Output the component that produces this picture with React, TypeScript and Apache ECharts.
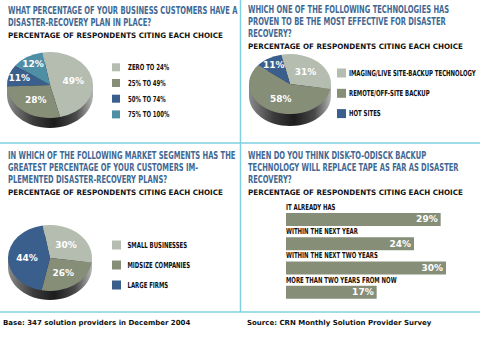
import React, { useEffect, useRef } from "react";
import * as echarts from "echarts";

// ---------- data ----------
const q1Title = ["WHAT PERCENTAGE OF YOUR BUSINESS CUSTOMERS HAVE A", "DISASTER-RECOVERY PLAN IN PLACE?"];
const q1Names = ["ZERO TO 24%", "25% TO 49%", "50% TO 74%", "75% TO 100%"];
const q1Values = [49, 28, 11, 12];

const q2Title = ["WHICH ONE OF THE FOLLOWING TECHNOLOGIES HAS", "PROVEN TO BE THE MOST EFFECTIVE FOR DISASTER", "RECOVERY?"];
const q2Names = ["IMAGING/LIVE SITE-BACKUP TECHNOLOGY", "REMOTE/OFF-SITE BACKUP", "HOT SITES"];
const q2Values = [31, 58, 11];

const q3Title = ["IN WHICH OF THE FOLLOWING MARKET SEGMENTS HAS THE", "GREATEST PERCENTAGE OF YOUR CUSTOMERS IM-", "PLEMENTED DISASTER-RECOVERY PLANS?"];
const q3Names = ["SMALL BUSINESSES", "MIDSIZE COMPANIES", "LARGE FIRMS"];
const q3Values = [30, 26, 44];

const q4Title = ["WHEN DO YOU THINK DISK-TO-ODISCK BACKUP", "TECHNOLOGY WILL REPLACE TAPE AS FAR AS DISASTER", "RECOVERY?"];
const q4Categories = ["IT ALREADY HAS", "WITHIN THE NEXT YEAR", "WITHIN THE NEXT TWO YEARS", "MORE THAN TWO YEARS FROM NOW"];
const q4Values = [29, 24, 30, 17];

const subtitle = "PERCENTAGE OF RESPONDENTS CITING EACH CHOICE";
const footLeft = "Base: 347 solution providers in December 2004";
const footRight = "Source: CRN Monthly Solution Provider Survey";

// ---------- styles ----------
const LIGHT = "#b5bdb1";
const GREEN = "#868e78";
const BLUE = "#3b5f8d";
const TEAL = "#4f8fa5";
const q1Colors = [LIGHT, GREEN, BLUE, TEAL];
const q23Colors = [LIGHT, GREEN, BLUE];
const TITLE_COLOR = "#3f6893";
const RULE = "#7fd0e3";
const NARROW = "'DejaVu Sans Condensed', 'DejaVu Sans', sans-serif";
const WIDE = "'DejaVu Sans', sans-serif";
const TITLE_SIZE = 10;
const SUB_SIZE = 7.5;
const LEG_SIZE = 8.3;

let measureCtx: CanvasRenderingContext2D | null = null;
function measure(text: string, size: number, family: string) {
  if (!measureCtx) measureCtx = document.createElement("canvas").getContext("2d");
  measureCtx!.font = `bold ${size}px ${family}`;
  return measureCtx!.measureText(text).width;
}

type PieGeom = { cx: number; cy: number; rx: number; ry: number; depth: number; startDeg: number };

function pieSeries(values: number[], colors: string[], g: PieGeom) {
  const total = values.reduce((a, b) => a + b, 0);
  const start = (g.startDeg * Math.PI) / 180;
  return {
    type: "custom",
    coordinateSystem: "none",
    silent: true,
    data: values,
    renderItem: (params: any) => {
      const i = params.dataIndex;
      let before = 0;
      for (let k = 0; k < i; k++) before += values[k];
      const a0 = start + (before / total) * Math.PI * 2;
      const a1 = a0 + (values[i] / total) * Math.PI * 2;
      const mid = (a0 + a1) / 2;
      const f = values[i] < 15 ? 0.75 : 0.55;
      const children: any[] = [];
      if (i === 0) {
        const grad = new echarts.graphic.LinearGradient(0, 0, 1, 0, [
          { offset: 0, color: "#8a8a8a" },
          { offset: 0.3, color: "#3c3c3c" },
          { offset: 0.55, color: "#1c1c1c" },
          { offset: 0.8, color: "#4a4a4a" },
          { offset: 1, color: "#b4b4b4" },
        ]);
        children.push({
          type: "rect",
          shape: { x: g.cx - g.rx, y: g.cy, width: g.rx * 2, height: g.depth },
          style: { fill: grad },
        });
        children.push({
          type: "ellipse",
          shape: { cx: g.cx, cy: g.cy + g.depth, rx: g.rx, ry: g.ry },
          style: { fill: grad },
        });
      }
      children.push({
        type: "sector",
        x: g.cx,
        y: g.cy,
        scaleY: g.ry / g.rx,
        shape: { cx: 0, cy: 0, r: g.rx, r0: 0, startAngle: a0, endAngle: a1, clockwise: true },
        style: { fill: colors[i] },
      });
      children.push({
        type: "text",
        x: g.cx + f * g.rx * Math.cos(mid),
        y: g.cy + f * g.ry * Math.sin(mid),
        style: {
          text: values[i] + "%",
          fill: "#ffffff",
          fontFamily: WIDE,
          fontWeight: "bold",
          fontSize: 9,
          align: "center",
          verticalAlign: "middle",
        },
      });
      return { type: "group", children };
    },
  };
}

function textEl(text: string, x: number, y: number, size: number, family: string, color: string, scaleX = 1) {
  return {
    type: "text",
    x,
    y,
    scaleX,
    silent: true,
    style: { text, fill: color, fontFamily: family, fontWeight: "bold", fontSize: size, align: "left", verticalAlign: "middle" },
  };
}

function line(x1: number, y1: number, x2: number, y2: number) {
  return { type: "line", silent: true, shape: { x1, y1, x2, y2 }, style: { stroke: RULE, lineWidth: 1.5 } };
}

export default function App() {
  const ref = useRef<HTMLDivElement>(null);
  useEffect(() => {
    if (!ref.current) return;
    const chart = echarts.init(ref.current, null, { renderer: "svg" });

    const sT = 230 / measure(q1Title[0], TITLE_SIZE, NARROW);
    const sS = 215 / measure(subtitle, SUB_SIZE, WIDE);
    const sL = 127 / measure(q2Names[0], LEG_SIZE, NARROW);

    const titleBlock = (lines: string[], x: number, y0: number, step: number, subY: number) => {
      const els: any[] = lines.map((l, i) => textEl(l, x, y0 + i * step, TITLE_SIZE, NARROW, TITLE_COLOR, sT));
      els.push(textEl(subtitle, x, subY, SUB_SIZE, WIDE, "#111", sS));
      return els;
    };
    const legendBlock = (names: string[], colors: string[], x: number, y0: number, step: number, size: number, gap: number) => {
      const els: any[] = [];
      names.forEach((n, i) => {
        const y = y0 + i * step;
        els.push({ type: "rect", silent: true, shape: { x, y: y - size / 2, width: size, height: size }, style: { fill: colors[i] } });
        els.push(textEl(n, x + gap, y, LEG_SIZE, NARROW, "#111", sL));
      });
      return els;
    };

    chart.setOption({
      animation: false,
      backgroundColor: "#ffffff",
      grid: { left: 286, top: 207.3, width: 160, height: 97.2 },
      xAxis: { type: "value", min: 0, max: 30, show: false },
      yAxis: {
        type: "category",
        inverse: true,
        data: q4Categories,
        axisLine: { show: false },
        axisTick: { show: false },
        splitLine: { show: false },
        axisLabel: { show: false },
      },
      series: [
        {
          type: "bar",
          data: q4Values,
          barWidth: 13,
          itemStyle: { color: GREEN },
          silent: true,
          label: {
            show: true,
            position: "insideRight",
            distance: 3,
            formatter: "{c}%",
            color: "#ffffff",
            fontFamily: WIDE,
            fontWeight: "bold",
            fontSize: 9,
          },
        },
        pieSeries(q1Values, q1Colors, { cx: 50, cy: 85, rx: 43, ry: 33, depth: 10, startDeg: -100 }),
        pieSeries(q2Values, q23Colors, { cx: 290, cy: 84, rx: 41, ry: 30, depth: 12, startDeg: -102 }),
        pieSeries(q3Values, q23Colors, { cx: 50, cy: 258, rx: 42, ry: 33, depth: 9, startDeg: -100 }),
      ],
    });

    // category labels above each bar, placed through the chart's own axes
    const catLabels = q4Categories.map((c, i) => {
      const p = chart.convertToPixel({ xAxisIndex: 0, yAxisIndex: 0 }, [0, i]) as number[];
      return textEl(c, p[0], p[1] - 12.5, LEG_SIZE, NARROW, "#111", sL);
    });

    const graphics: any[] = [
      line(240.5, 0, 240.5, 312),
      line(0, 143, 480, 143),
      line(0, 312, 480, 312),
      ...titleBlock(q1Title, 8, 10.5, 12.5, 35),
      ...titleBlock(q2Title, 248, 10, 11.8, 46.5),
      ...titleBlock(q3Title, 8, 156, 12, 192.5),
      ...titleBlock(q4Title, 248, 156, 12, 192.5),
      ...legendBlock(q1Names, q1Colors, 112, 67.3, 15.7, 8, 16),
      ...legendBlock(q2Names, q23Colors, 337, 73, 20.3, 9, 12),
      ...legendBlock(q3Names, q23Colors, 112, 245, 20, 9, 15.5),
      ...catLabels,
      textEl(footLeft, 3, 323, 7, WIDE, "#111"),
      textEl(footRight, 247, 323, 7, WIDE, "#111"),
    ];
    chart.setOption({ graphic: graphics });
    return () => chart.dispose();
  }, []);
  return <div ref={ref} style={{ position: "fixed", left: 0, top: 0, width: 480, height: 337, background: "#fff" }} />;
}
